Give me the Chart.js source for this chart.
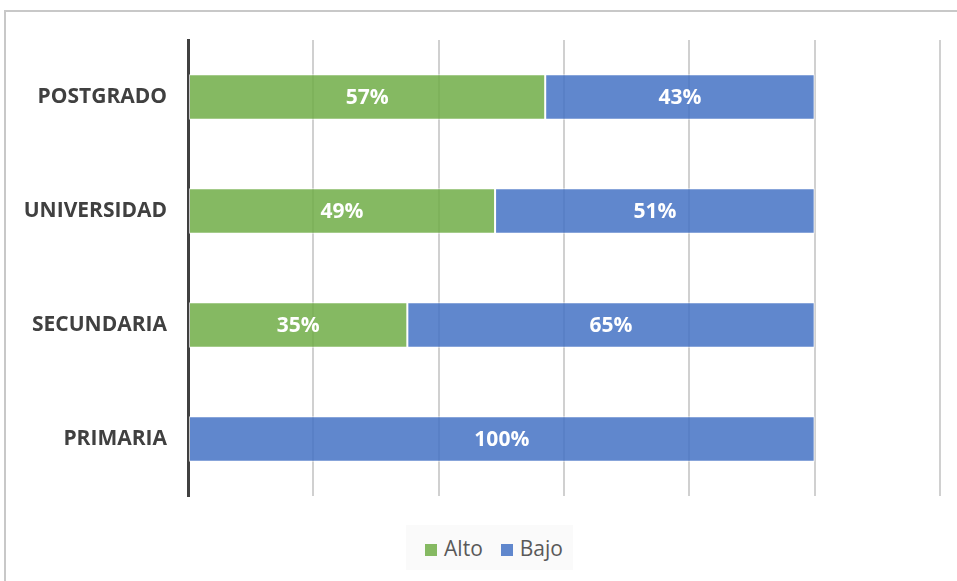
<!DOCTYPE html>
<html>
<head>
<meta charset="utf-8">
<script src="https://cdn.jsdelivr.net/npm/chart.js@4"></script>
<style>
  html, body { margin: 0; padding: 0; background: #fff; }
  #wrap { position: relative; width: 957px; height: 581px; overflow: hidden; }
  #frame { position: absolute; left: 4px; top: 10px; width: 1000px; height: 1000px; border: 2px solid #c8c8c8; box-sizing: border-box; }
  canvas { position: absolute; left: 0; top: 0; }
  #legend { position: absolute; left: 406px; top: 525px; width: 167px; height: 45px; background: #fafafa;
            font-family: "Open Sans", sans-serif; font-size: 21px; color: #595959; box-sizing: border-box; padding-left: 9px;
            display: flex; align-items: center; justify-content: center; gap: 18px; }
  #legend span.box { display: inline-block; width: 12px; height: 12px; margin-right: 7px; vertical-align: 0px; }
</style>
</head>
<body>
<div id="wrap">
  <div id="frame"></div>
  <canvas id="chart" width="957" height="581"></canvas>
  <div id="legend"></div>
</div>
<script>
const categories = ['POSTGRADO', 'UNIVERSIDAD', 'SECUNDARIA', 'PRIMARIA'];
const alto = [57, 49, 35, 0];
const bajo = [43, 51, 65, 100];
const seriesNames = ['Alto', 'Bajo'];
const seriesColors = ['rgba(112,173,71,0.85)', 'rgba(68,114,196,0.85)'];

// white labels centred in each segment
const barLabels = {
    id: 'barLabels',
    afterDatasetsDraw(chart) {
        const ctx = chart.ctx;
        ctx.save();
        ctx.fillStyle = '#fff';
        ctx.font = 'bold 21px "Open Sans"';
        ctx.textAlign = 'center';
        ctx.textBaseline = 'middle';
        chart.data.datasets.forEach((ds, i) => {
            chart.getDatasetMeta(i).data.forEach((bar, j) => {
                const v = ds.data[j];
                if (!v) return;
                ctx.fillText(v + '%', (bar.x + bar.base) / 2, bar.y + 1);
            });
        });
        ctx.restore();
    }
};

const ctx = document.getElementById('chart').getContext('2d');
const chart = new Chart(ctx, {
    type: 'bar',
    data: {
        labels: categories,
        datasets: [
            { label: seriesNames[0], data: alto, backgroundColor: seriesColors[0], borderColor: 'rgba(255,255,255,0.7)', borderWidth: 1, borderSkipped: false },
            { label: seriesNames[1], data: bajo, backgroundColor: seriesColors[1], borderColor: 'rgba(255,255,255,0.7)', borderWidth: 1, borderSkipped: false }
        ]
    },
    options: {
        indexAxis: 'y',
        responsive: false,
        animation: false,
        layout: { padding: { left: 0, right: 17, top: 40, bottom: 85 } },
        datasets: { bar: { categoryPercentage: 1, barPercentage: 0.4 } },
        plugins: { legend: { display: false }, tooltip: { enabled: false } },
        scales: {
            x: {
                stacked: true,
                min: 0,
                max: 120,
                ticks: { display: false, stepSize: 20 },
                grid: { color: '#d0d0d0', lineWidth: 2, drawTicks: false },
                border: { display: false },
                afterFit: s => { s.height = 0; }
            },
            y: {
                stacked: true,
                grid: { display: false, drawTicks: false },
                border: { display: true, color: '#404040', width: 3 },
                ticks: { color: '#404040', padding: 21, font: { family: 'Open Sans', size: 21, weight: 'bold' } },
                afterFit: s => { s.width = 188; }
            }
        }
    },
    plugins: [barLabels]
});

document.getElementById('legend').innerHTML = chart.data.datasets.map(ds =>
    `<span><span class="box" style="background:${ds.backgroundColor}"></span>${ds.label}</span>`).join('');
</script>
</body>
</html>
